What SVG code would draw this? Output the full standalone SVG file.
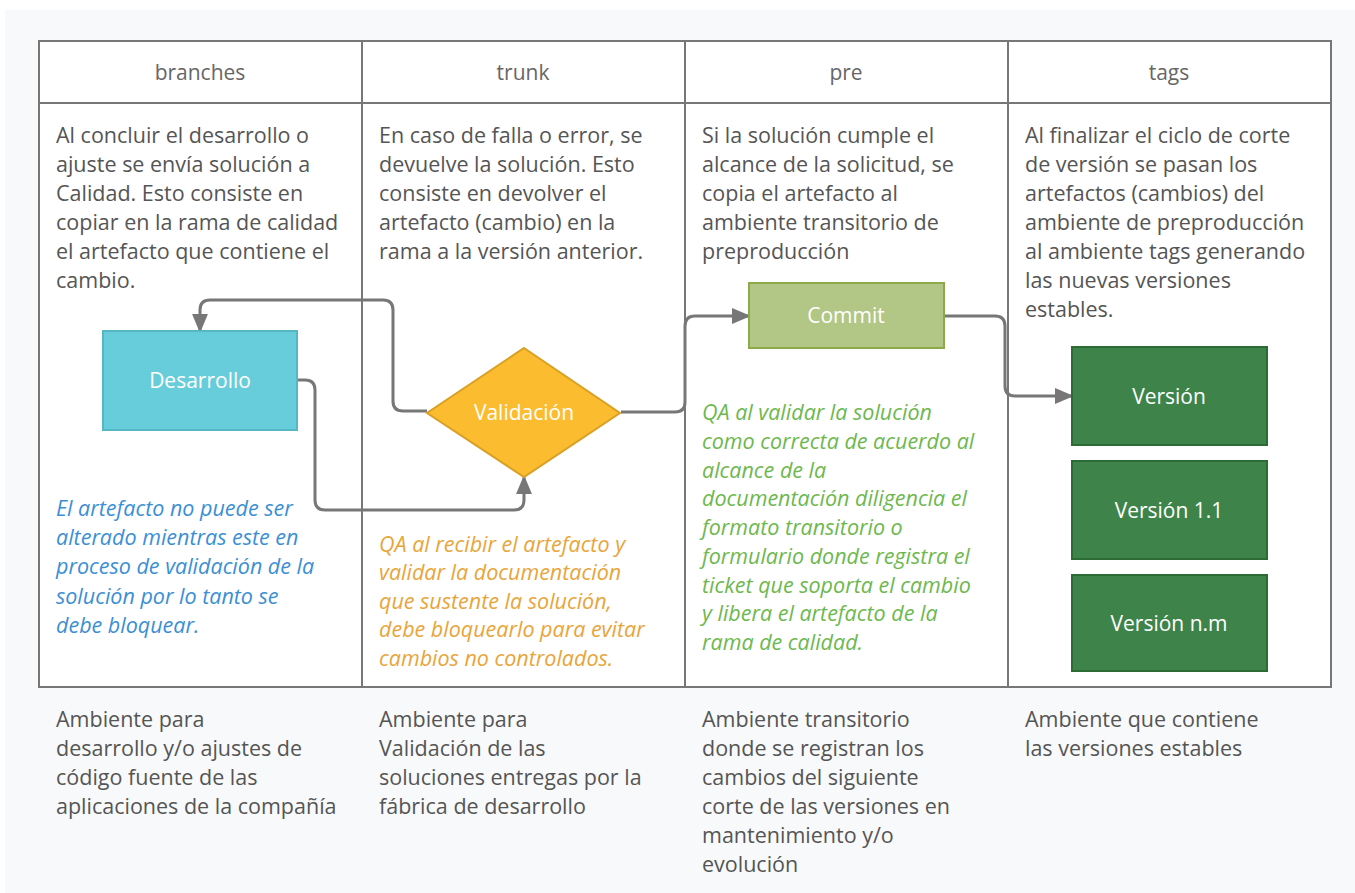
<svg xmlns="http://www.w3.org/2000/svg" width="1355" height="893" viewBox="0 0 1355 893">
<defs>
<marker id="arr" viewBox="0 0 10 10" refX="9" refY="5" markerWidth="19" markerHeight="19" orient="auto" markerUnits="userSpaceOnUse">
<path d="M0,0.8 L10,5 L0,9.2 z" fill="#777"/>
</marker>
<style>
.t{font-family:"Open Sans","Liberation Sans",sans-serif;font-size:21.5px;fill:#555}
.h{font-family:"Open Sans","Liberation Sans",sans-serif;font-size:21px;fill:#666;text-anchor:middle}
.n{font-family:"Open Sans","Liberation Sans",sans-serif;font-size:21px;fill:#fff;text-anchor:middle}
.i{font-family:"Open Sans","Liberation Sans",sans-serif;font-size:21.5px;font-style:italic}
.blue{fill:#3b8fd4}
.orange{fill:#e8a53a}
.green{fill:#6db84e}
.grid{fill:none;stroke:#777;stroke-width:2}
.c{fill:none;stroke:#777;stroke-width:3;stroke-linejoin:round}
</style>
</defs>
<rect x="0" y="0" width="1355" height="893" fill="#fff"/>
<rect x="5" y="10" width="1350" height="883" fill="#f8f9fa"/>
<g id="table">
<rect x="39" y="41" width="1292" height="646" fill="#ffffff"/>
<rect x="39" y="41" width="1292" height="646" class="grid"/>
<line x1="39" y1="103" x2="1331" y2="103" class="grid"/>
<line x1="362" y1="41" x2="362" y2="687" class="grid"/>
<line x1="685" y1="41" x2="685" y2="687" class="grid"/>
<line x1="1008" y1="41" x2="1008" y2="687" class="grid"/>
<text class="h" x="200" y="80">branches</text>
<text class="h" x="523" y="80">trunk</text>
<text class="h" x="846" y="80">pre</text>
<text class="h" x="1169" y="80">tags</text>
</g>
<g id="desc1">
<text class="t" x="56" y="143"><tspan x="56">Al concluir el desarrollo o</tspan><tspan x="56" dy="29">ajuste se envía solución a</tspan><tspan x="56" dy="29">Calidad. Esto consiste en</tspan><tspan x="56" dy="29">copiar en la rama de calidad</tspan><tspan x="56" dy="29">el artefacto que contiene el</tspan><tspan x="56" dy="29">cambio.</tspan></text>
</g>
<g id="desc2">
<text class="t" x="379" y="143"><tspan x="379">En caso de falla o error, se</tspan><tspan x="379" dy="29">devuelve la solución. Esto</tspan><tspan x="379" dy="29">consiste en devolver el</tspan><tspan x="379" dy="29">artefacto (cambio) en la</tspan><tspan x="379" dy="29">rama a la versión anterior.</tspan></text>
</g>
<g id="desc3">
<text class="t" x="702" y="143"><tspan x="702">Si la solución cumple el</tspan><tspan x="702" dy="29">alcance de la solicitud, se</tspan><tspan x="702" dy="29">copia el artefacto al</tspan><tspan x="702" dy="29">ambiente transitorio de</tspan><tspan x="702" dy="29">preproducción</tspan></text>
</g>
<g id="desc4">
<text class="t" x="1025" y="143"><tspan x="1025">Al finalizar el ciclo de corte</tspan><tspan x="1025" dy="29">de versión se pasan los</tspan><tspan x="1025" dy="29">artefactos (cambios) del</tspan><tspan x="1025" dy="29">ambiente de preproducción</tspan><tspan x="1025" dy="29">al ambiente tags generando</tspan><tspan x="1025" dy="29">las nuevas versiones</tspan><tspan x="1025" dy="29">estables.</tspan></text>
</g>
<g id="connectors">
<path class="c" d="M427,411 H403 Q393,411 393,401 V310 Q393,300 383,300 H210 Q200,300 200,310 V331" marker-end="url(#arr)"/>
<path class="c" d="M298,380 H305 Q315,380 315,390 V500 Q315,510 325,510 H514 Q524,510 524,500 V477" marker-end="url(#arr)"/>
<path class="c" d="M621,412 H675 Q685,412 685,402 V326 Q685,316 695,316 H749" marker-end="url(#arr)"/>
<path class="c" d="M945,316 H995 Q1005,316 1005,326 V386 Q1005,396 1015,396 H1072" marker-end="url(#arr)"/>
</g>
<g id="desarrollo">
<rect x="103" y="331" width="194" height="99" fill="#67cdda" stroke="#55b7c3" stroke-width="2"/>
<text class="n" x="200" y="388">Desarrollo</text>
</g>
<g id="validacion">
<polygon points="524,348 620,413 524,477 427,413" fill="#fbbc30" stroke="#d9a024" stroke-width="2"/>
<text class="n" x="524" y="420">Validación</text>
</g>
<g id="commit">
<rect x="749" y="283" width="195" height="65" fill="#b2c785" stroke="#8caa48" stroke-width="2"/>
<text class="n" x="846" y="323">Commit</text>
</g>
<g id="version">
<rect x="1072" y="347" width="195" height="98" fill="#3e844a" stroke="#2d6b36" stroke-width="2"/>
<text class="n" x="1169" y="404">Versión</text>
</g>
<g id="version11">
<rect x="1072" y="461" width="195" height="98" fill="#3e844a" stroke="#2d6b36" stroke-width="2"/>
<text class="n" x="1169" y="518">Versión 1.1</text>
</g>
<g id="versionnm">
<rect x="1072" y="575" width="195" height="96" fill="#3e844a" stroke="#2d6b36" stroke-width="2"/>
<text class="n" x="1169" y="631">Versión n.m</text>
</g>
<g id="note1">
<text class="i blue" x="56" y="516"><tspan x="56">El artefacto no puede ser</tspan><tspan x="56" dy="29.2">alterado mientras este en</tspan><tspan x="56" dy="29.2">proceso de validación de la</tspan><tspan x="56" dy="29.2">solución por lo tanto se</tspan><tspan x="56" dy="29.2">debe bloquear.</tspan></text>
</g>
<g id="note2">
<text class="i orange" x="379" y="552"><tspan x="379">QA al recibir el artefacto y</tspan><tspan x="379" dy="28.4">validar la documentación</tspan><tspan x="379" dy="28.4">que sustente la solución,</tspan><tspan x="379" dy="28.4">debe bloquearlo para evitar</tspan><tspan x="379" dy="28.4">cambios no controlados.</tspan></text>
</g>
<g id="note3">
<text class="i green" x="702" y="420"><tspan x="702">QA al validar la solución</tspan><tspan x="702" dy="28.75">como correcta de acuerdo al</tspan><tspan x="702" dy="28.75">alcance de la</tspan><tspan x="702" dy="28.75">documentación diligencia el</tspan><tspan x="702" dy="28.75">formato transitorio o</tspan><tspan x="702" dy="28.75">formulario donde registra el</tspan><tspan x="702" dy="28.75">ticket que soporta el cambio</tspan><tspan x="702" dy="28.75">y libera el artefacto de la</tspan><tspan x="702" dy="28.75">rama de calidad.</tspan></text>
</g>
<g id="foot1">
<text class="t" x="56" y="727"><tspan x="56">Ambiente para</tspan><tspan x="56" dy="29">desarrollo y/o ajustes de</tspan><tspan x="56" dy="29">código fuente de las</tspan><tspan x="56" dy="29">aplicaciones de la compañía</tspan></text>
</g>
<g id="foot2">
<text class="t" x="379" y="727"><tspan x="379">Ambiente para</tspan><tspan x="379" dy="29">Validación de las</tspan><tspan x="379" dy="29">soluciones entregas por la</tspan><tspan x="379" dy="29">fábrica de desarrollo</tspan></text>
</g>
<g id="foot3">
<text class="t" x="702" y="727"><tspan x="702">Ambiente transitorio</tspan><tspan x="702" dy="29">donde se registran los</tspan><tspan x="702" dy="29">cambios del siguiente</tspan><tspan x="702" dy="29">corte de las versiones en</tspan><tspan x="702" dy="29">mantenimiento y/o</tspan><tspan x="702" dy="29">evolución</tspan></text>
</g>
<g id="foot4">
<text class="t" x="1025" y="727"><tspan x="1025">Ambiente que contiene</tspan><tspan x="1025" dy="29">las versiones estables</tspan></text>
</g>
</svg>
